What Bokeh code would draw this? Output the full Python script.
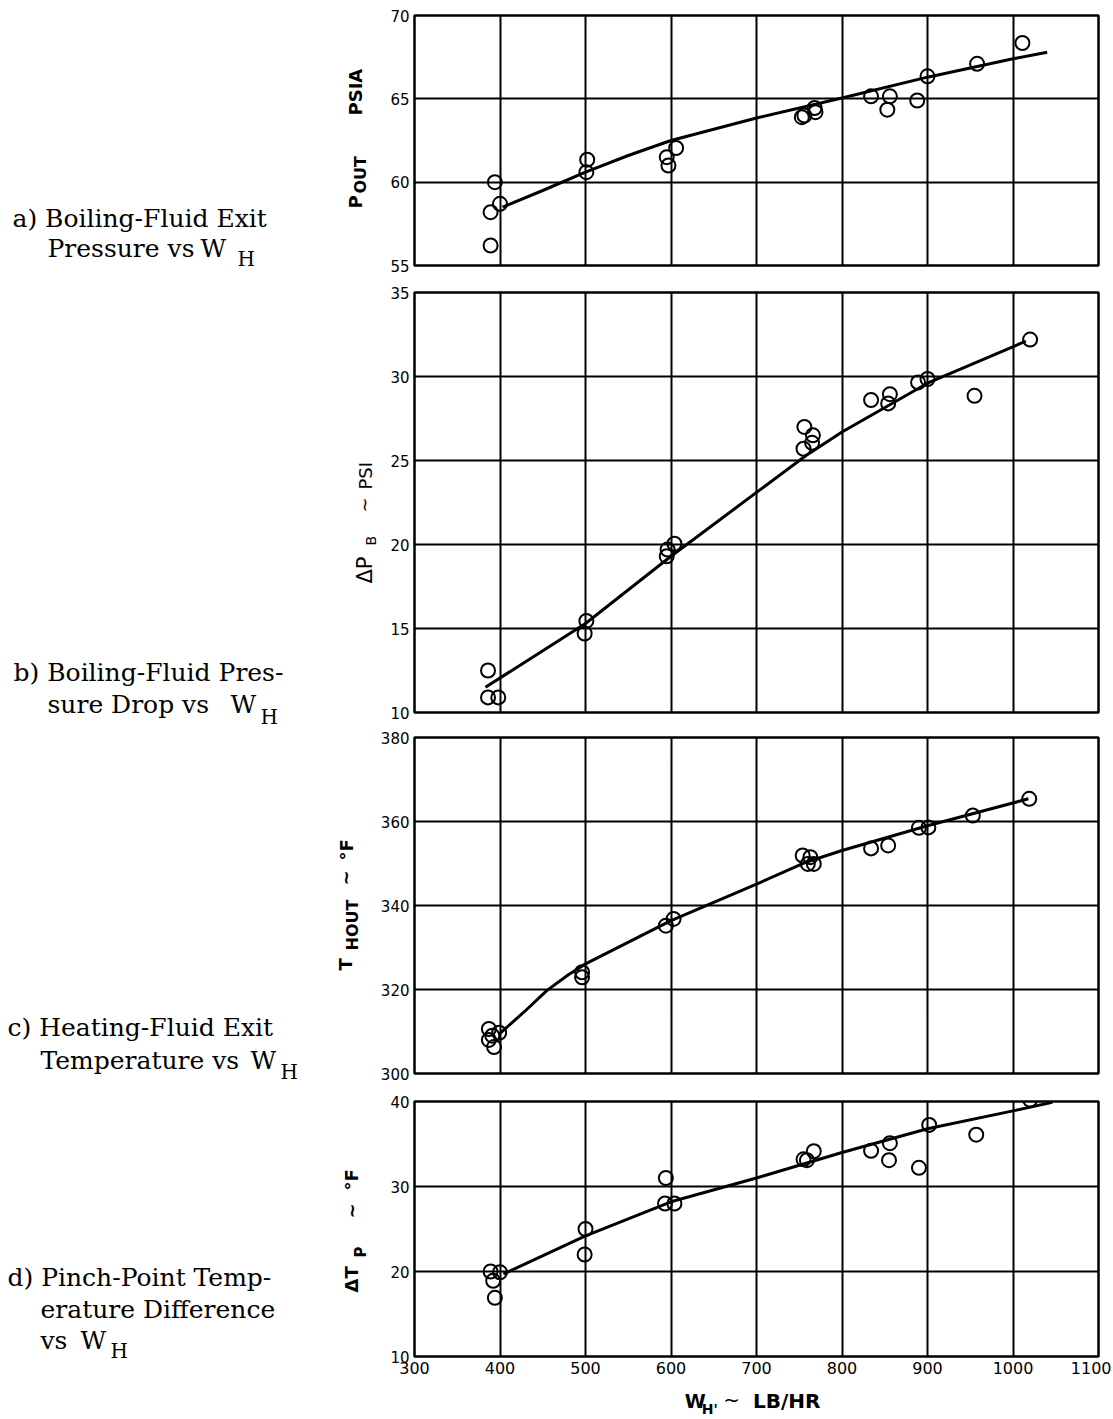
import math
from bokeh.plotting import figure
from bokeh.layouts import row, column
from bokeh.models import Range1d, FixedTicker
from bokeh.core.properties import value
from bokeh.embed import file_html
from bokeh.resources import INLINE

# ---------------- data ----------------
x_ticks = [300, 400, 500, 600, 700, 800, 900, 1000, 1100]

# a) boiling-fluid exit pressure, PSIA
a_x = [394, 400, 389, 389, 502, 501, 595, 597, 606, 753, 756, 768, 769, 834, 856, 853, 888, 900, 958, 1011]
a_y = [60.0, 58.7, 58.2, 56.2, 61.35, 60.6, 61.5, 61.0, 62.05, 63.9, 64.0, 64.45, 64.2, 65.15, 65.15, 64.35, 64.9, 66.35, 67.1, 68.35]
a_fit_x = [403, 450, 500, 550, 600, 700, 800, 900, 1000, 1040]
a_fit_y = [58.5, 59.5, 60.6, 61.6, 62.5, 63.85, 65.05, 66.3, 67.4, 67.8]
a_ticks = [55, 60, 65, 70]

# b) boiling-fluid pressure drop, PSI
b_x = [386, 386, 398, 501, 499, 595, 596, 604, 756, 766, 765, 755, 834, 856, 854, 889, 900, 955, 1020]
b_y = [12.5, 10.9, 10.9, 15.45, 14.7, 19.3, 19.7, 20.05, 27.0, 26.5, 26.05, 25.7, 28.6, 28.95, 28.4, 29.65, 29.85, 28.85, 32.2]
b_fit_x = [383, 500, 600, 700, 758, 800, 900, 1015]
b_fit_y = [11.5, 15.3, 19.3, 23.1, 25.3, 26.7, 29.6, 32.1]
b_ticks = [10, 15, 20, 25, 30, 35]

# c) heating-fluid exit temperature, F
c_x = [387, 399, 387, 393, 391, 496, 496, 594, 603, 754, 763, 760, 767, 834, 854, 890, 901, 953, 1019]
c_y = [310.6, 309.7, 308.0, 306.3, 309.0, 324.1, 322.9, 335.2, 336.8, 351.9, 351.5, 349.9, 349.9, 353.6, 354.3, 358.5, 358.6, 361.4, 365.4]
c_fit_x = [399, 430, 455, 480, 500, 600, 700, 758, 800, 900, 1018]
c_fit_y = [309.4, 315.0, 319.8, 323.5, 326.1, 336.4, 345.1, 350.3, 353.1, 359.0, 365.4]
c_ticks = [300, 320, 340, 360, 380]

# d) pinch-point temperature difference, F
d_x = [389, 400, 392, 394, 500, 499, 594, 593, 604, 755, 759, 767, 834, 856, 855, 890, 902, 957, 1020]
d_y = [20.0, 19.9, 18.9, 16.9, 25.0, 22.0, 31.0, 28.0, 28.0, 33.2, 33.1, 34.15, 34.2, 35.1, 33.1, 32.2, 37.25, 36.1, 40.2]
d_fit_x = [404, 500, 600, 700, 800, 900, 1000, 1046]
d_fit_y = [19.7, 24.2, 28.2, 31.0, 34.0, 36.8, 38.9, 39.9]
d_ticks = [10, 20, 30, 40]

# ---------------- layout constants ----------------
BL = 34       # chart left border (tick labels)
LW = 411 - BL # width of the left caption column
FW = 684      # frame width
BR = 16       # chart right border
TICK_FONT = "DejaVu Sans"


def chart(yr, yticks, top, fh, bottom, show_x=False):
    p = figure(x_range=Range1d(300, 1100), y_range=Range1d(*yr),
               frame_width=FW, frame_height=fh,
               min_border_left=BL, min_border_right=BR,
               min_border_top=top, min_border_bottom=bottom,
               output_backend="svg", toolbar_location=None,
               x_axis_location="below" if show_x else None)
    p.outline_line_color = "black"
    p.outline_line_width = 2.5
    p.xgrid.ticker = FixedTicker(ticks=x_ticks)
    p.ygrid.ticker = FixedTicker(ticks=yticks)
    for g in (p.xgrid, p.ygrid):
        g.grid_line_color = "black"
        g.grid_line_width = 2
        g.grid_line_alpha = 1.0
    ya = p.yaxis[0]
    ya.ticker = FixedTicker(ticks=yticks)
    ya.axis_line_color = None
    ya.major_tick_line_color = None
    ya.minor_tick_line_color = None
    ya.major_tick_out = 0
    ya.major_tick_in = 0
    ya.major_label_standoff = 5
    ya.major_label_text_font = TICK_FONT
    ya.major_label_text_font_size = "15px"
    ya.major_label_text_color = "black"
    if show_x:
        xa = p.xaxis[0]
        xa.ticker = FixedTicker(ticks=x_ticks)
        xa.axis_line_color = None
        xa.major_tick_line_color = None
        xa.minor_tick_line_color = None
        xa.major_tick_out = 0
        xa.major_tick_in = 0
        xa.major_label_standoff = 5
        xa.major_label_text_font = TICK_FONT
        xa.major_label_text_font_size = "16px"
        xa.major_label_text_color = "black"
    return p


def draw(p, xs, ys, fx, fy):
    p.line(fx, fy, line_color="black", line_width=3)
    p.scatter(xs, ys, marker="circle", size=14, fill_color=None,
              line_color="black", line_width=2)


fa = chart((55, 70), a_ticks, 15, 250, 13)
draw(fa, a_x, a_y, a_fit_x, a_fit_y)
fb = chart((10, 35), b_ticks, 14, 420, 12)
draw(fb, b_x, b_y, b_fit_x, b_fit_y)
fc = chart((300, 380), c_ticks, 13, 336, 14)
draw(fc, c_x, c_y, c_fit_x, c_fit_y)
fd = chart((10, 40), d_ticks, 14, 255, 24, show_x=True)
draw(fd, d_x, d_y, d_fit_x, d_fit_y)

XL_H = 38
xl = figure(x_range=Range1d(300, 1100), y_range=Range1d(XL_H, 0),
            frame_width=FW, frame_height=XL_H,
            min_border_left=BL, min_border_right=BR,
            min_border_top=0, min_border_bottom=0,
            output_backend="svg", toolbar_location=None,
            x_axis_location=None, y_axis_location=None)
xl.grid.visible = False
xl.outline_line_color = None

H = 278 + 446 + 363 + 293 + XL_H
lf = figure(x_range=Range1d(0, LW), y_range=Range1d(H, 0),
            frame_width=LW, frame_height=H,
            min_border_left=0, min_border_right=0,
            min_border_top=0, min_border_bottom=0,
            output_backend="svg", toolbar_location=None,
            x_axis_location=None, y_axis_location=None)
lf.grid.visible = False
lf.outline_line_color = None


def txt(p, x, y, s, size, font="DejaVu Sans", style="normal", angle=0.0,
        align="left"):
    p.text(x=[x], y=[y], text=[s], text_font=value(font),
           text_font_size=size, text_font_style=style, angle=angle,
           text_baseline="middle", text_align=align, text_color="black")


SERIF = "DejaVu Serif"
CAP = "25px"
SUB = "20px"
# captions (left column, page pixel coordinates of text centres)
txt(lf, 12, 218, "a) Boiling-Fluid Exit", CAP, SERIF)
txt(lf, 47, 248, "Pressure vs", CAP, SERIF)
txt(lf, 200, 248, "W", CAP, SERIF)
txt(lf, 237, 258, "H", SUB, SERIF)

txt(lf, 13, 672, "b) Boiling-Fluid Pres-", CAP, SERIF)
txt(lf, 47, 704, "sure Drop vs", CAP, SERIF)
txt(lf, 230, 704, "W", CAP, SERIF)
txt(lf, 260, 716, "H", SUB, SERIF)

txt(lf, 7, 1027, "c) Heating-Fluid Exit", CAP, SERIF)
txt(lf, 40, 1060, "Temperature vs", CAP, SERIF)
txt(lf, 250, 1060, "W", CAP, SERIF)
txt(lf, 280, 1071, "H", SUB, SERIF)

txt(lf, 7, 1277, "d) Pinch-Point Temp-", CAP, SERIF)
txt(lf, 40, 1309, "erature Difference", CAP, SERIF)
txt(lf, 40, 1340, "vs", CAP, SERIF)
txt(lf, 80, 1340, "W", CAP, SERIF)
txt(lf, 110, 1350, "H", SUB, SERIF)

# rotated y-axis titles (x = centre of the rotated line, y = start)
R = math.pi / 2
txt(lf, 354.5, 208, "P", "18px", style="bold", angle=R)
txt(lf, 360, 193, "OUT", "16px", style="bold", angle=R)
txt(lf, 355, 115, "PSIA", "18px", style="bold", angle=R)

txt(lf, 364, 583, "\u0394P", "21px", angle=R)
txt(lf, 370, 545, "B", "14px", angle=R)
txt(lf, 364, 512, "~", "18px", angle=R)
txt(lf, 365, 489, "PSI", "18px", angle=R)

txt(lf, 345, 970, "T", "18px", style="bold", angle=R)
txt(lf, 352, 950, "HOUT", "16px", style="bold", angle=R)
txt(lf, 345, 885, "~", "18px", style="bold", angle=R)
txt(lf, 346, 860, "\u00b0F", "18px", style="bold", angle=R)

txt(lf, 351, 1292, "\u0394T", "18px", style="bold", angle=R)
txt(lf, 360, 1257, "P", "15px", style="bold", angle=R)
txt(lf, 351, 1218, "~", "18px", style="bold", angle=R)
txt(lf, 351, 1190, "\u00b0F", "18px", style="bold", angle=R)

# x-axis title under panel d (y = centre, pixels below panel d)
txt(xl, 616, 20, "W", "19px", style="bold")
txt(xl, 636, 28, "H'", "14px", style="bold")
txt(xl, 661, 19, "~", "20px")
txt(xl, 696, 20, "LB/HR", "20px", style="bold")

layout = row(lf, column(fa, fb, fc, fd, xl))
open("out.html", "w").write(file_html(layout, INLINE))
